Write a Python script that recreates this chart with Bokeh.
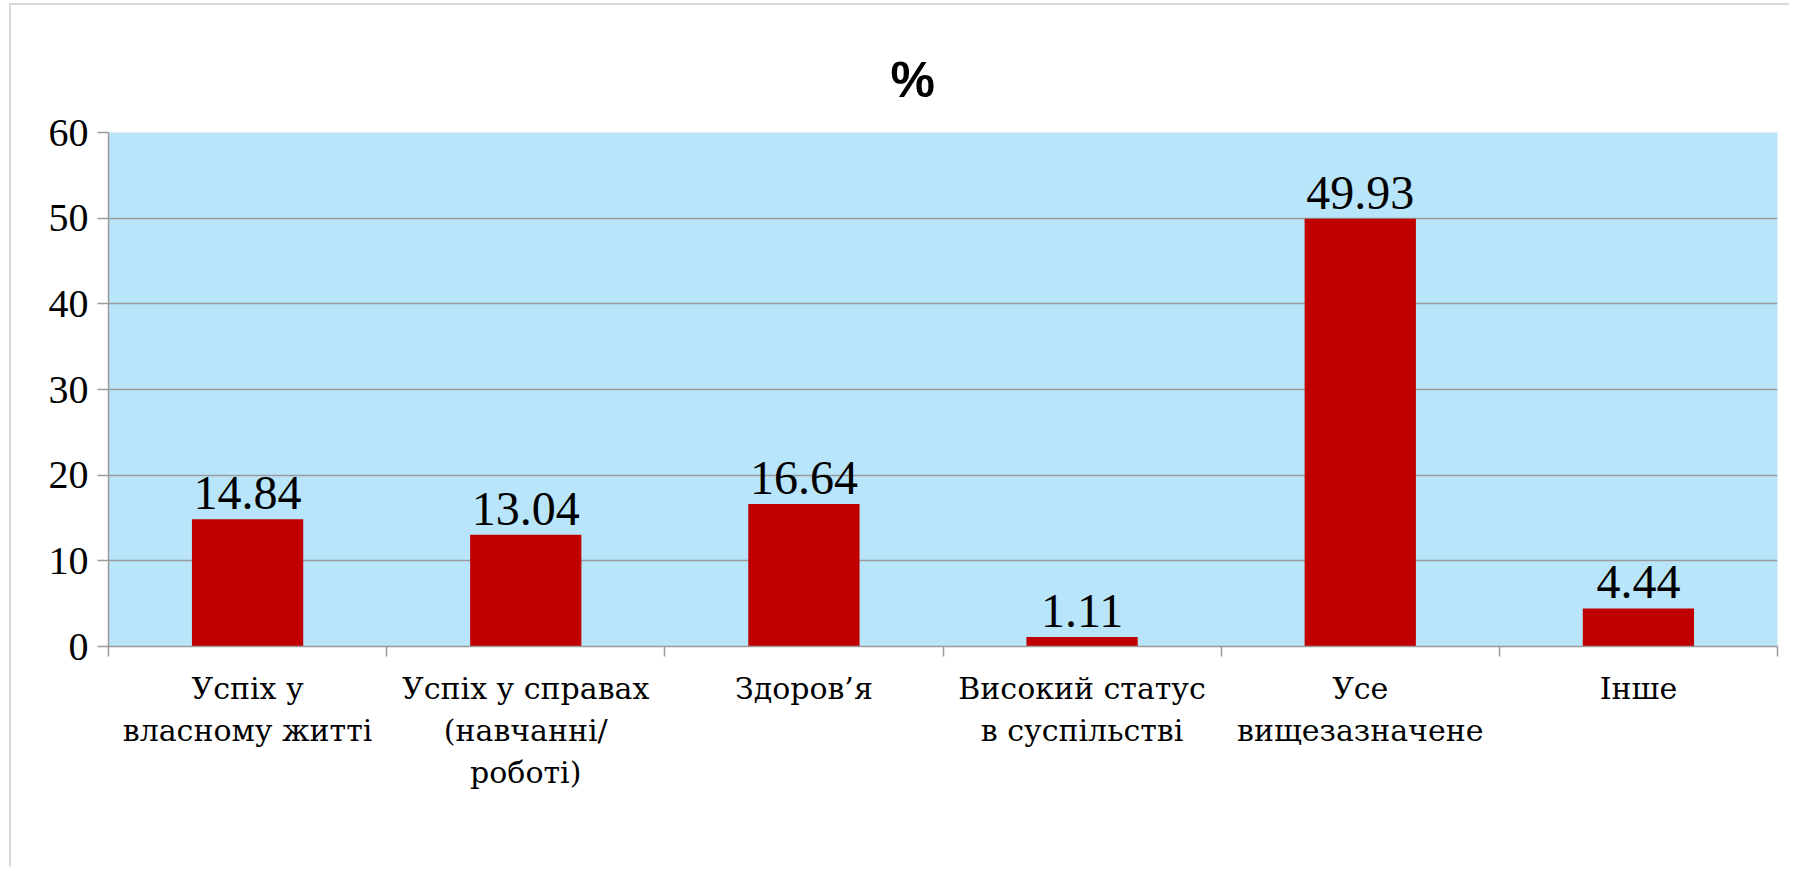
from bokeh.plotting import figure
from bokeh.models import Range1d, FixedTicker, CustomJSTickFormatter
from bokeh.embed import file_html
from bokeh.resources import INLINE
from bokeh.core.properties import value

# ---- data ----
categories = [
    "Успіх у\nвласному житті",
    "Успіх у справах\n(навчанні/\nроботі)",
    "Здоров’я",
    "Високий статус\nв суспільстві",
    "Усе\nвищезазначене",
    "Інше",
]
values = [14.84, 13.04, 16.64, 1.11, 49.93, 4.44]
value_labels = ["14.84", "13.04", "16.64", "1.11", "49.93", "4.44"]
y_ticks = [0, 10, 20, 30, 40, 50, 60]
title_text = "%"

# ---- styles ----
SERIF = "Liberation Serif"
CYR_SERIF = "DejaVu Serif"
SANS = "Liberation Sans"
BG = "#B8E5FA"
BAR = "#C00000"
GRID = "#9A9A9A"

n = len(categories)
centers = [i + 0.5 for i in range(n)]
bounds = list(range(n + 1))

p = figure(
    width=1780, height=864,
    output_backend="svg", toolbar_location=None,
    x_range=Range1d(0, n), y_range=Range1d(y_ticks[0], y_ticks[-1]),
    min_border_left=97, min_border_right=14,
    min_border_top=127, min_border_bottom=223,
)
p.styles = {
    "margin-left": "9px", "margin-top": "3px",
    "border-left": "2px solid #D9D9D9", "border-top": "2px solid #D9D9D9",
}
p.background_fill_color = BG
p.border_fill_color = "white"
p.outline_line_color = None

# title
p.title.text = title_text
p.title.align = "left"
p.title.offset = 782
p.title.standoff = 49
p.title.text_font = SANS
p.title.text_font_style = "bold"
p.title.text_font_size = "50px"
p.title.text_color = "black"

# grid
p.xgrid.visible = False
p.ygrid.ticker = FixedTicker(ticks=y_ticks)
p.ygrid.grid_line_color = GRID
p.ygrid.grid_line_width = 1.5

# y axis
p.yaxis.ticker = FixedTicker(ticks=y_ticks)
p.yaxis.axis_line_color = GRID
p.yaxis.axis_line_width = 1.5
p.yaxis.major_tick_line_color = GRID
p.yaxis.major_tick_line_width = 1.5
p.yaxis.major_tick_out = 11
p.yaxis.major_tick_in = 0
p.yaxis.minor_tick_line_color = None
p.yaxis.major_label_text_font = SERIF
p.yaxis.major_label_text_font_size = "40px"
p.yaxis.major_label_text_color = "black"
p.yaxis.major_label_standoff = 9

# x axis: labels at category centres, tick marks at category boundaries
p.xaxis.ticker = FixedTicker(ticks=centers, minor_ticks=bounds)
p.xaxis.formatter = CustomJSTickFormatter(
    args=dict(labels=categories),
    code="const i = Math.floor(tick); return (i >= 0 && i < labels.length) ? labels[i] : '';",
)
p.xaxis.axis_line_color = GRID
p.xaxis.axis_line_width = 1.5
p.xaxis.major_tick_line_color = None
p.xaxis.major_tick_out = 0
p.xaxis.major_tick_in = 0
p.xaxis.minor_tick_line_color = GRID
p.xaxis.minor_tick_line_width = 1.5
p.xaxis.minor_tick_out = 10
p.xaxis.minor_tick_in = 0
p.xaxis.major_label_text_font = CYR_SERIF
p.xaxis.major_label_text_font_size = "30px"
p.xaxis.major_label_text_color = "black"
p.xaxis.major_label_text_line_height = 1.2
p.xaxis.major_label_standoff = 14

# bars
p.vbar(x=centers, top=values, bottom=0, width=0.4, fill_color=BAR, line_color=None)

# value labels
p.text(x=centers, y=values, text=value_labels,
       text_align="center", text_baseline="bottom", y_offset=-10,
       text_font=value(SERIF), text_font_size="48px", text_color="black")

open("out.html", "w").write(file_html(p, INLINE))
